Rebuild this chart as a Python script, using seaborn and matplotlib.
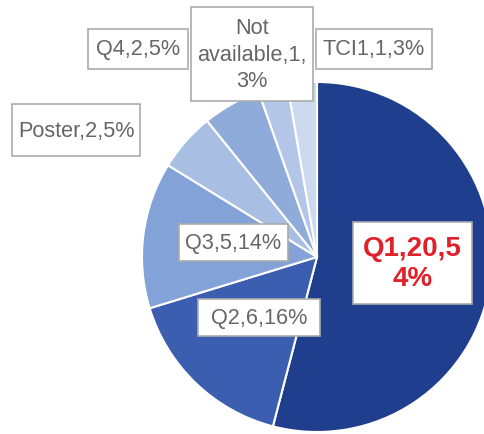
import matplotlib
matplotlib.use("Agg")
import matplotlib.pyplot as plt
from matplotlib.patches import Rectangle
import seaborn as sns

sns.set_style("white")
plt.rcParams["font.family"] = ["Liberation Sans", "DejaVu Sans"]

# ─── Data ──────────────────────────────────────────────────────────────────
categories = ["Q1", "Q2", "Q3", "Poster", "Q4", "Not available", "TCI1"]
counts = [20, 6, 5, 2, 2, 1, 1]
percents = [54, 16, 14, 5, 5, 3, 3]
label_texts = [
    "Q1,20,5\n4%",
    "Q2,6,16%",
    "Q3,5,14%",
    "Poster,2,5%",
    "Q4,2,5%",
    "Not\navailable,1,\n3%",
    "TCI1,1,3%",
]
colors = ["#1f3f8e", "#3c5eb0", "#83a2d7", "#a9bee3", "#8eabd9", "#b3c6e7", "#cbdaef"]

# label boxes as (left, top, right, bottom) in image pixels (484x435)
H = 435
label_boxes = [
    (353, 223, 472, 305),
    (198, 300, 320, 337),
    (179, 225, 288, 262),
    (12, 105, 140, 157),
    (88, 30, 188, 70),
    (191, 8, 313, 102),
    (316, 30, 432, 70),
]

fig = plt.figure(figsize=(4.84, 4.35), dpi=100)
ax = fig.add_axes([0, 0, 1, 1])

ax.pie(counts, colors=colors, startangle=90, counterclock=False,
       center=(317, H - 258), radius=175,
       wedgeprops=dict(edgecolor="white", linewidth=1.5))

# pie() resets the limits, so fix the pixel frame afterwards
ax.set_xlim(0, 484)
ax.set_ylim(0, H)
ax.set_aspect("equal")
ax.axis("off")

for i, (txt, (l, t, r, b)) in enumerate(zip(label_texts, label_boxes)):
    ax.add_patch(Rectangle((l, H - b), r - l, b - t, facecolor="white",
                           edgecolor="#ababab", linewidth=1.2, zorder=3))
    cx, cy = (l + r) / 2, H - (t + b) / 2
    if i == 0:
        ax.text(cx, cy, txt, ha="center", va="center", fontsize=20, fontweight="bold",
                color="#e0202a", linespacing=1.25, zorder=4)
    else:
        ax.text(cx, cy, txt, ha="center", va="center", fontsize=15.6, color="#666666",
                linespacing=1.35 if "\n" in txt else 1.2, zorder=4)

plt.savefig("out.png", dpi=100)
plt.close()
